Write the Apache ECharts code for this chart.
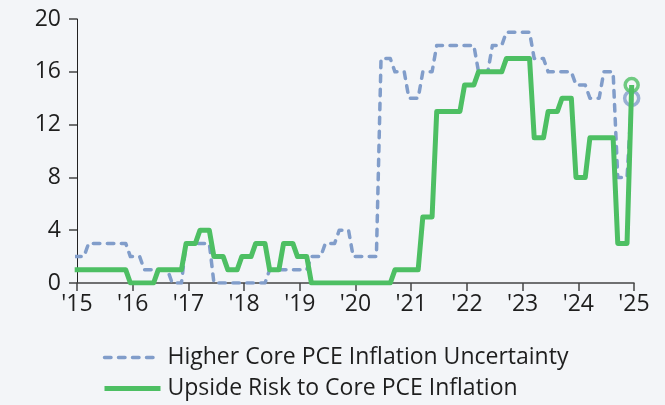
<!DOCTYPE html>
<html>
<head>
<meta charset="utf-8">
<script src="https://cdn.jsdelivr.net/npm/echarts@6/dist/echarts.min.js"></script>
<style>
  html, body { margin: 0; padding: 0; background: #f3f5f8; }
  #chart-container { width: 665px; height: 405px; }
</style>
</head>
<body>
<div id="chart-container"></div>
<script>
// SEP release months; the first entry is the value carried into Jan 2015
var sepDates = [
    '2014-12',
    '2015-03', '2015-06', '2015-09', '2015-12',
    '2016-03', '2016-06', '2016-09', '2016-12',
    '2017-03', '2017-06', '2017-09', '2017-12',
    '2018-03', '2018-06', '2018-09', '2018-12',
    '2019-03', '2019-06', '2019-09', '2019-12',
    '2020-03', '2020-06', '2020-09', '2020-12',
    '2021-03', '2021-06', '2021-09', '2021-12',
    '2022-03', '2022-06', '2022-09', '2022-12',
    '2023-03', '2023-06', '2023-09', '2023-12',
    '2024-03', '2024-06', '2024-09', '2024-12'
];
var uncertainty = [
    2,
    3, 3, 3, 2,
    1, 1, 0, 3,
    3, 0, 0, 0,
    0, 1, 1, 1,
    2, 3, 4, 2,
    2, 17, 16, 14,
    16, 18, 18, 18,
    16, 18, 19, 19,
    17, 16, 16, 15,
    14, 16, 8, 14
];
var upsideRisk = [
    1,
    1, 1, 1, 0,
    0, 1, 1, 3,
    4, 2, 1, 2,
    3, 1, 3, 2,
    0, 0, 0, 0,
    0, 0, 1, 1,
    5, 13, 13, 15,
    16, 16, 17, 17,
    11, 13, 14, 8,
    11, 11, 3, 15
];
var seriesNames = ['Higher Core PCE Inflation Uncertainty', 'Upside Risk to Core PCE Inflation'];
var yTicks = [0, 4, 8, 12, 16, 20];

var bg = '#f3f5f8';
var blue = '#819dca';
var green = '#4dbf63';
var textColor = '#1e1e1e';
var fontFamily = '"Open Sans", "Noto Sans", sans-serif';

var blueLine = { color: blue, width: 3.5, type: [6.5, 7.5], cap: 'round', join: 'round' };
var greenLine = { color: green, width: 5, join: 'round' };

function toYear(d) {
    var parts = d.split('-');
    return +parts[0] + (+parts[1] - 0.5) / 12;
}

// each SEP value is held until the month before the next release
function buildSteps(values) {
    var out = [];
    for (var i = 0; i < values.length; i++) {
        var t = toYear(sepDates[i]);
        out.push([t, values[i]]);
        if (i + 1 < values.length) {
            out.push([toYear(sepDates[i + 1]) - 1 / 12, values[i]]);
        }
    }
    return out;
}

function lastPoint(values) {
    var i = values.length - 1;
    return [[toYear(sepDates[i]), values[i]]];
}

var dom = document.getElementById('chart-container');
var myChart = echarts.init(dom, null, { renderer: 'canvas' });

var option = {
    backgroundColor: bg,
    animation: false,
    textStyle: { fontFamily: fontFamily },
    grid: {
        left: 77,
        right: 31,
        top: 19,
        bottom: 122
    },
    legend: {
        orient: 'vertical',
        left: 97,
        top: 341,
        itemWidth: 56,
        itemHeight: 14,
        itemGap: 8,
        data: [
            { name: seriesNames[0], lineStyle: blueLine },
            { name: seriesNames[1], lineStyle: greenLine }
        ],
        itemStyle: { opacity: 0, borderWidth: 0 },
        textStyle: {
            color: textColor,
            fontSize: 23,
            fontFamily: fontFamily,
            padding: [0, 0, 0, 2]
        }
    },
    xAxis: {
        type: 'value',
        min: 2015,
        max: 2025,
        interval: 1,
        splitLine: { show: false },
        axisLine: { onZero: false, lineStyle: { color: '#444', width: 1.5 } },
        axisTick: { show: true, length: 8, lineStyle: { color: '#444', width: 1.5 } },
        axisLabel: {
            color: textColor,
            fontSize: 23,
            margin: 10,
            formatter: function (v) {
                return "'" + String(v).slice(2);
            }
        }
    },
    yAxis: {
        type: 'value',
        min: yTicks[0],
        max: yTicks[yTicks.length - 1],
        interval: 4,
        splitLine: { show: false },
        axisLine: { show: true, lineStyle: { color: '#222', width: 1 } },
        axisTick: { show: true, length: 8, lineStyle: { color: '#444', width: 1.5 } },
        axisLabel: {
            color: textColor,
            fontSize: 23,
            margin: 16
        }
    },
    series: [
        {
            name: seriesNames[0],
            type: 'line',
            symbol: 'none',
            clip: true,
            color: blue,
            lineStyle: blueLine,
            data: buildSteps(uncertainty)
        },
        {
            type: 'scatter',
            symbol: 'circle',
            symbolSize: 14,
            itemStyle: { color: bg, borderColor: blue, borderWidth: 3.5 },
            data: lastPoint(uncertainty)
        },
        {
            name: seriesNames[1],
            type: 'line',
            symbol: 'none',
            clip: true,
            color: green,
            lineStyle: greenLine,
            data: buildSteps(upsideRisk)
        },
        {
            type: 'scatter',
            symbol: 'circle',
            symbolSize: 13,
            itemStyle: { color: bg, borderColor: green, borderWidth: 3.5 },
            data: lastPoint(upsideRisk)
        }
    ]
};

if (option && typeof option === 'object') {
    myChart.setOption(option);
}
window.addEventListener('resize', myChart.resize);
</script>
</body>
</html>
